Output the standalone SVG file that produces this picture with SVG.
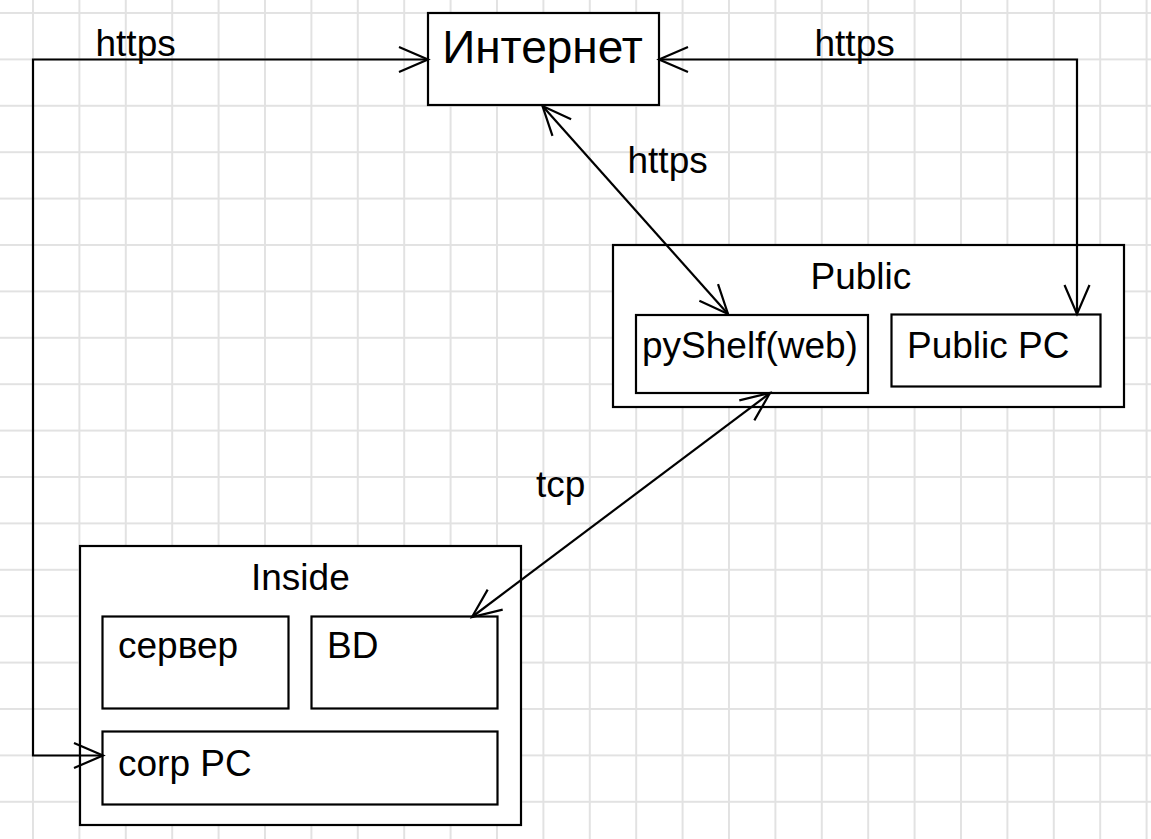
<svg xmlns="http://www.w3.org/2000/svg" width="1151" height="839" viewBox="0 0 1151 839">
<style>
.box{fill:#ffffff;stroke:#000000;stroke-width:2.2}
.lbl{font-family:"Liberation Sans",Arial,sans-serif;font-size:37px;fill:#000000}
.edge{fill:none;stroke:#000000;stroke-width:2.2;marker-start:url(#open);marker-end:url(#open)}
.grid{fill:none;stroke:#e2e2e2;stroke-width:2}
</style>
<defs>
<pattern id="gridpat" patternUnits="userSpaceOnUse" x="32" y="12" width="46.4" height="46.4">
<path class="grid" d="M1 0V46.4M0 1H46.4"/>
</pattern>
<marker id="open" markerUnits="userSpaceOnUse" markerWidth="40" markerHeight="40" refX="30" refY="15" orient="auto-start-reverse" overflow="visible">
<path d="M1 2.5L30 15L1 27.5" fill="none" stroke="#000000" stroke-width="2.2"/>
</marker>
</defs>
<rect width="1151" height="839" fill="#ffffff"/>
<rect width="1151" height="839" fill="url(#gridpat)"/>
<g id="internet">
<rect class="box" x="428" y="13" width="231" height="92"/>
<text class="lbl" x="542.5" y="63" text-anchor="middle" style="font-size:46px">Интернет</text>
</g>
<g id="public">
<rect class="box" x="613" y="245" width="511" height="162"/>
<text class="lbl" x="810.5" y="289">Public</text>
</g>
<g id="pyshelf">
<rect class="box" x="636" y="315" width="232" height="78"/>
<text class="lbl" x="642" y="358">pyShelf(web)</text>
</g>
<g id="publicpc">
<rect class="box" x="891.5" y="314.5" width="209" height="72"/>
<text class="lbl" x="907" y="358">Public PC</text>
</g>
<g id="inside">
<rect class="box" x="80" y="546" width="441" height="279"/>
<text class="lbl" x="251" y="590">Inside</text>
</g>
<g id="server">
<rect class="box" x="102.5" y="616.5" width="186" height="92"/>
<text class="lbl" x="118" y="658">сервер</text>
</g>
<g id="bd">
<rect class="box" x="311.5" y="616.5" width="186" height="92"/>
<text class="lbl" x="327" y="658">BD</text>
</g>
<g id="corppc">
<rect class="box" x="102.5" y="731.5" width="395" height="73"/>
<text class="lbl" x="118" y="776">corp PC</text>
</g>
<g id="connectors">
<path class="edge" d="M103 755.5H33V59.5H428"/>
<path class="edge" d="M659 59.5H1077V314"/>
<path class="edge" d="M542.5 106L728 314"/>
<path class="edge" d="M770 393L472 617"/>
<text class="lbl" x="95.5" y="56">https</text>
<text class="lbl" x="814.5" y="56">https</text>
<text class="lbl" x="627.5" y="173">https</text>
<text class="lbl" x="536" y="497">tcp</text>
</g>
</svg>
